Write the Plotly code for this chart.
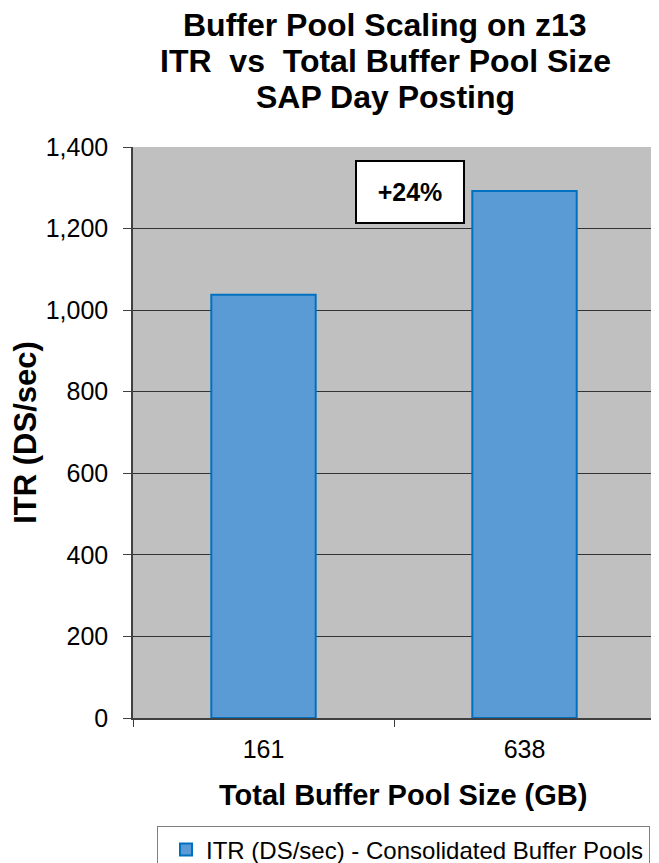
import plotly.graph_objects as go

categories = ["161", "638"]
itr_values = [1038, 1292]
series_name = "ITR (DS/sec) - Consolidated Buffer Pools"
y_ticks = [0, 200, 400, 600, 800, 1000, 1200, 1400]
y_tick_labels = ["0", "200", "400", "600", "800", "1,000", "1,200", "1,400"]
title_lines = ["Buffer Pool Scaling on z13", "ITR  vs  Total Buffer Pool Size", "SAP Day Posting"]
title_line_y = [1.2135, 1.1500, 1.0870]
x_title = "Total Buffer Pool Size (GB)"
y_title = "ITR (DS/sec)"
callout_text = "+24%"
callout_y = 1289

FONT = "Liberation Sans, Arial, sans-serif"

fig = go.Figure()
fig.add_trace(go.Bar(
    x=categories, y=itr_values, name=series_name,
    marker=dict(color="#5B9BD5", line=dict(color="#0070C0", width=2)),
))

fig.update_layout(
    width=651, height=855,
    margin=dict(l=125, r=4, t=139, b=145, autoexpand=False),
    paper_bgcolor="white", plot_bgcolor="#C0C0C0",
    bargap=0.6,
    showlegend=True,
    font=dict(family=FONT, color="black"),
    legend=dict(x=0.046, y=-0.190, xanchor="left", yanchor="top", xref="paper", yref="paper",
                bordercolor="#808080", borderwidth=1, bgcolor="white",
                font=dict(family=FONT, size=24, color="black"),
                itemsizing="constant", indentation=8),
)

for line, ly in zip(title_lines, title_line_y):
    fig.add_annotation(
        x=0.483, xref="paper", y=ly, yref="paper", xanchor="center", yanchor="middle",
        text="<b>" + line + "</b>", showarrow=False,
        font=dict(family=FONT, size=32, color="black"),
    )

fig.add_annotation(
    x=0.517, xref="paper", y=-0.135, yref="paper", xanchor="center", yanchor="middle",
    text="<b>" + x_title + "</b>", showarrow=False,
    font=dict(family=FONT, size=29, color="black"),
)

fig.update_xaxes(
    type="category", tickson="boundaries", ticks="outside", ticklen=7, tickcolor="#404040",
    showline=True, linecolor="#404040", linewidth=1.5, showgrid=False,
    tickfont=dict(family=FONT, size=25, color="black"), ticklabelstandoff=8,
)
fig.update_yaxes(
    range=[0, 1400], tickvals=y_ticks, ticktext=y_tick_labels,
    ticks="outside", ticklen=8, tickcolor="#404040",
    showline=True, linecolor="#404040", linewidth=1.5,
    showgrid=True, gridcolor="#333333", gridwidth=1, zeroline=False,
    tickfont=dict(family=FONT, size=25, color="black"), ticklabelstandoff=10,
    title=dict(text=y_title, standoff=10,
               font=dict(family=FONT, size=31, color="black", weight="bold")),
)

fig.add_annotation(
    x=0.531, xref="paper", y=callout_y, yref="y",
    text="<b>" + callout_text + "</b>", showarrow=False,
    font=dict(family=FONT, size=25, color="black"),
    bgcolor="white", bordercolor="black", borderwidth=2,
    width=104, height=58, align="center", valign="middle",
)

fig.write_html("out.html")
